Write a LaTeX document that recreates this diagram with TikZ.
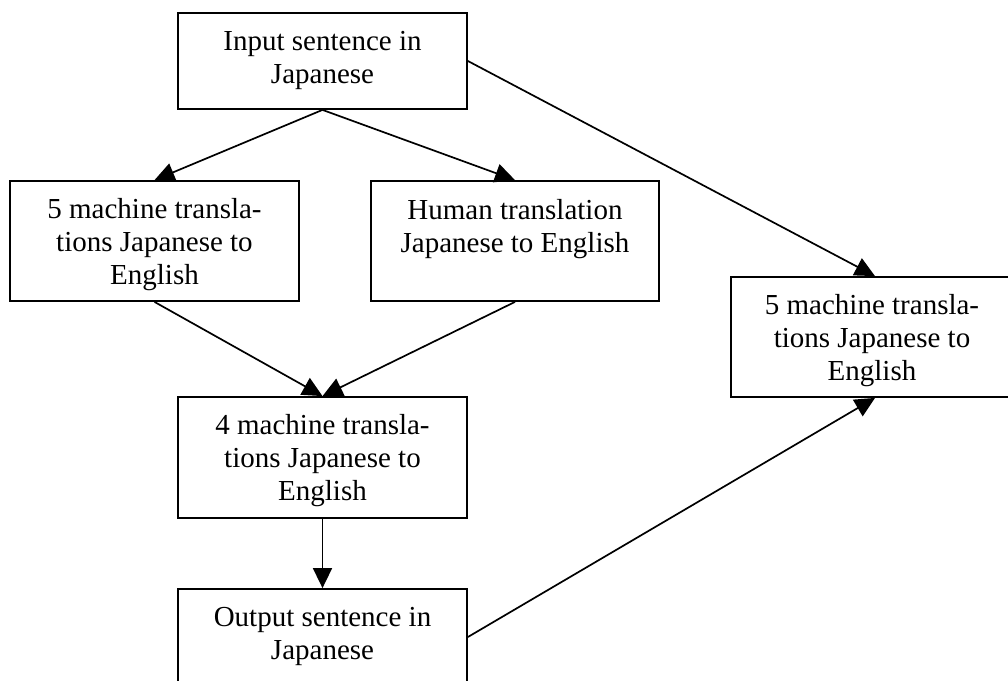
\documentclass[tikz,border=0pt]{standalone}
\usepackage{fontspec}
\setmainfont{Liberation Serif}
\usetikzlibrary{arrows.meta,calc}
\begin{document}
\begin{tikzpicture}[x=1pt,y=-1pt,
  box/.style={draw,fill=white,line width=1.8pt,inner sep=0pt},
  txt/.style={font=\fontsize{29}{33}\selectfont,align=center,inner sep=0pt,anchor=north},
  arr/.style={line width=1.7pt,-{Triangle[length=20pt,width=19pt]}}]
\useasboundingbox (0,0) rectangle (1008,680);
\clip (0,0) rectangle (1008,680);
% boxes
\node[box,minimum width=289pt,minimum height=96pt]  (inp)   at (322.5,61)  {};
\node[box,minimum width=289pt,minimum height=120pt] (left)  at (154.5,241) {};
\node[box,minimum width=288pt,minimum height=120pt] (human) at (515,241)   {};
\node[box,minimum width=289pt,minimum height=121pt] (mid)   at (322.5,457.5) {};
\node[box,minimum width=289pt,minimum height=96pt]  (out)   at (322.5,637) {};
\node[box,minimum width=282pt,minimum height=120pt] (right) at (872,337)   {};
% texts
\node[txt] (tinp)   at ($(inp.north)+(0,18.5)$)   {Input sentence in\\Japanese};
\node[txt] (tleft)  at ($(left.north)+(0,18)$)    {5 machine transla-\\tions Japanese to\\English};
\node[txt] (thuman) at ($(human.north)+(0,19)$)   {Human translation\\Japanese to English};
\node[txt] (tmid)   at ($(mid.north)+(0,18.5)$)   {4 machine transla-\\tions Japanese to\\English};
\node[txt] (tout)   at ($(out.north)+(0,18.5)$)   {Output sentence in\\Japanese};
\node[txt] (tright) at ($(right.north)+(0,18.5)$) {5 machine transla-\\tions Japanese to\\English};
% connectors
\draw[arr] (inp.south) -- (left.north);
\draw[arr] (inp.south) -- (human.north);
\draw[arr] (inp.east) -- ($(right.north)+(3,0)$);
\draw[arr] (left.south) -- (mid.north);
\draw[arr] (human.south) -- (mid.north);
\draw[arr] (mid.south) -- (out.north);
\draw[arr] (out.east) -- ($(right.south)+(3,0)$);
\end{tikzpicture}
\end{document}
